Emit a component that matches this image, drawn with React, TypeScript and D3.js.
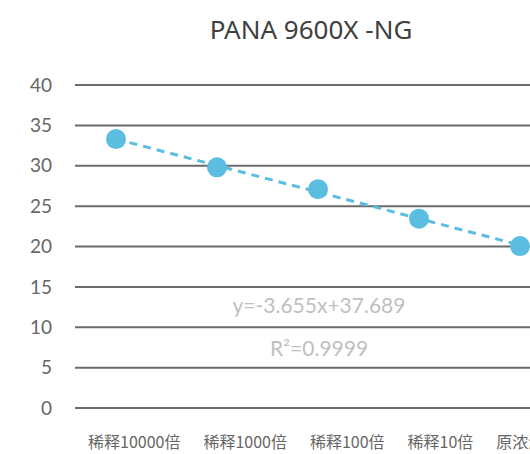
import { useEffect, useRef } from "react";
import * as d3 from "d3";

const categories = ["稀释10000倍", "稀释1000倍", "稀释100倍", "稀释10倍", "原浓液"];
const values = [33.3, 29.8, 27.1, 23.45, 20.05];
const yTicks = [0, 5, 10, 15, 20, 25, 30, 35, 40];
const title = "PANA 9600X -NG";
const equationLabel = "y=-3.655x+37.689";
const rSquaredLabel = "R²=0.9999";

export default function App() {
  const svgRef = useRef<SVGSVGElement>(null);

  useEffect(() => {
    if (!svgRef.current) return;
    const width = 530;
    const height = 454;
    const svg = d3.select(svgRef.current);
    svg.selectAll("*").remove();

    const x = d3.scalePoint<string>().domain(categories).range([116, 520]);
    const y = d3.scaleLinear().domain([0, 40]).range([408, 85]);

    // title
    svg.append("text")
      .attr("x", 311)
      .attr("y", 39)
      .attr("text-anchor", "middle")
      .attr("font-family", "'Noto Sans', sans-serif")
      .attr("font-size", 26)
      .attr("fill", "#404040")
      .text(title);

    // gridlines
    svg.append("g")
      .selectAll("line")
      .data(yTicks)
      .enter()
      .append("line")
      .attr("x1", 75)
      .attr("x2", width)
      .attr("y1", d => y(d))
      .attr("y2", d => y(d))
      .attr("stroke", "#6b6b6b")
      .attr("stroke-width", 2);

    // y tick labels
    svg.append("g")
      .selectAll("text")
      .data(yTicks)
      .enter()
      .append("text")
      .attr("x", 52)
      .attr("y", d => y(d))
      .attr("dy", "0.35em")
      .attr("text-anchor", "end")
      .attr("font-family", "Lato, sans-serif")
      .attr("font-size", 19)
      .attr("fill", "#666")
      .text(d => d);

    // x labels, laid out in a row with a fixed gap
    const labels = svg.append("g")
      .selectAll("text")
      .data(categories)
      .enter()
      .append("text")
      .attr("y", 448)
      .attr("font-family", "'Noto Sans CJK SC', sans-serif")
      .attr("font-size", 16)
      .attr("fill", "#666")
      .text(d => d);
    let cursor = 88;
    labels.each(function () {
      const t = this as SVGTextElement;
      t.setAttribute("x", String(cursor));
      cursor += t.getComputedTextLength() + 23;
    });

    // linear trendline from least squares on the points
    const idx = values.map((_, i) => i + 1);
    const mx = d3.mean(idx) as number;
    const my = d3.mean(values) as number;
    const slope = d3.sum(idx, (xi, i) => (xi - mx) * (values[i] - my)) / d3.sum(idx, xi => (xi - mx) ** 2);
    const intercept = my - slope * mx;
    const trend = [0, categories.length - 1].map(i => ({ c: categories[i], v: intercept + slope * (i + 1) }));
    const line = d3.line<{ c: string; v: number }>()
      .x(d => x(d.c) as number)
      .y(d => y(d.v));
    svg.append("path")
      .attr("d", line(trend))
      .attr("fill", "none")
      .attr("stroke", "#5bbde0")
      .attr("stroke-width", 3)
      .attr("stroke-dasharray", "8,6");

    // points
    svg.append("g")
      .selectAll("circle")
      .data(values)
      .enter()
      .append("circle")
      .attr("cx", (_, i) => x(categories[i]) as number)
      .attr("cy", d => y(d))
      .attr("r", 10)
      .attr("fill", "#5bbde0");

    // equation labels
    svg.append("text")
      .attr("x", 319)
      .attr("y", 313)
      .attr("text-anchor", "middle")
      .attr("font-family", "Lato, sans-serif")
      .attr("font-size", 21)
      .attr("fill", "#bfbfbf")
      .text(equationLabel);
    svg.append("text")
      .attr("x", 319)
      .attr("y", 356)
      .attr("text-anchor", "middle")
      .attr("font-family", "Lato, sans-serif")
      .attr("font-size", 21)
      .attr("fill", "#bfbfbf")
      .text(rSquaredLabel);
  }, []);

  return (
    <svg ref={svgRef} width={530} height={454}
      style={{ position: "absolute", left: 0, top: 0, background: "#fff" }} />
  );
}
